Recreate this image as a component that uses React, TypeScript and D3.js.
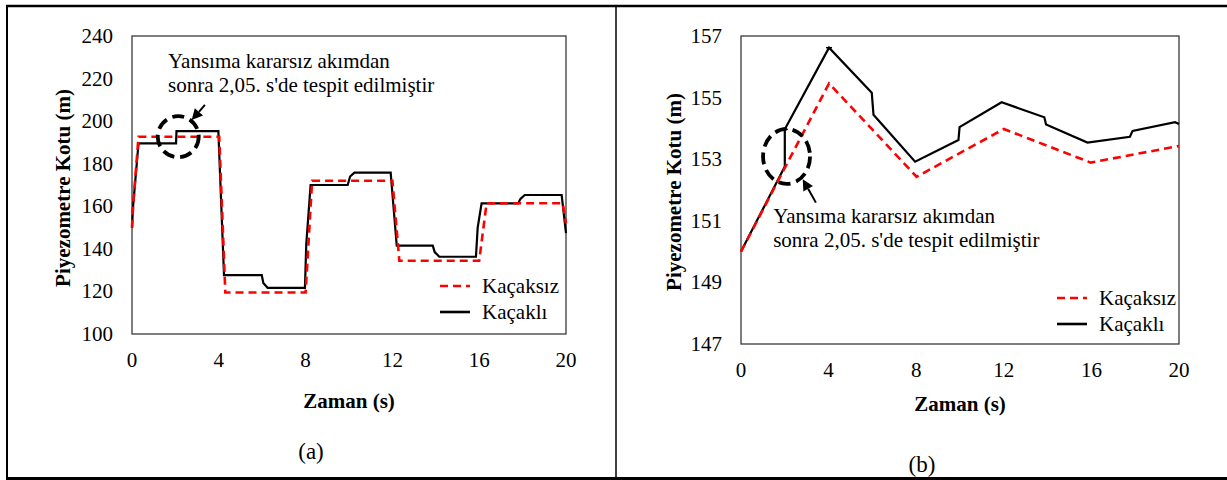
import React from "react";
import * as d3 from "d3";

// ---------- DATA ----------
// Panel (a)
const timeA_kacaksiz = [0, 0.05, 0.3, 4.02, 4.3, 8.0, 8.3, 12.0, 12.32, 16.0, 16.34, 19.85, 20];
const headA_kacaksiz = [150, 160, 192.7, 192.7, 119.5, 119.5, 172, 172, 134.4, 134.4, 161.4, 161.4, 152];
const timeA_kacakli = [0, 0.05, 0.3, 2.03, 2.05, 3.98, 4.24, 5.98, 6.05, 6.25, 7.97, 8.03, 8.23, 9.94, 10.05, 10.25, 11.92, 12.2, 13.86, 13.95, 14.16, 15.85, 15.93, 16.11, 17.8, 17.9, 18.1, 19.8, 20];
const headA_kacakli = [150, 160, 189.6, 189.6, 195.3, 195.3, 127.7, 127.7, 124, 121.7, 121.7, 142, 170, 170, 174, 175.8, 175.8, 141.5, 141.5, 138.5, 136.3, 136.3, 150, 161.4, 161.4, 163.5, 165.3, 165.3, 147.4];
const yTicksA = [100, 120, 140, 160, 180, 200, 220, 240];

// Panel (b)
const timeB_kacaksiz = [0, 4.02, 8.02, 12.0, 15.97, 20];
const headB_kacaksiz = [150, 155.46, 152.43, 153.98, 152.89, 153.43];
const timeB_kacakli = [0, 2.0, 2.0, 4.02, 5.97, 6.05, 7.95, 9.93, 9.98, 11.9, 13.85, 13.93, 15.82, 17.76, 17.88, 19.82, 20];
const headB_kacakli = [150, 152.76, 153.97, 156.62, 155.16, 154.44, 152.92, 153.62, 154.04, 154.85, 154.36, 154.13, 153.54, 153.73, 153.92, 154.2, 154.14];
const yTicksB = [147, 149, 151, 153, 155, 157];

const xTicks = [0, 4, 8, 12, 16, 20];
const seriesNames = ["Kaçaksız", "Kaçaklı"];
const annotationLines = ["Yansıma kararsız akımdan", "sonra 2,05. s'de tespit edilmiştir"];
const yTitle = "Piyezometre Kotu (m)";
const xTitle = "Zaman (s)";

const FONT = "'Liberation Serif', 'Times New Roman', serif";
const FS = 21;

type Panel = {
  left: number; right: number; top: number; bottom: number;
  yDomain: [number, number]; yTicks: number[];
  red: [number[], number[]]; black: [number[], number[]];
  yTitleX: number; yTitleY: number; xTitleY: number;
  label: string; labelX: number; labelY: number;
  circle: { t: number; v: number; rx: number; ry: number };
  arrowTip: [number, number]; arrowTail: [number, number];
  textAt: [number, number];
  legendX: number; legendY: number; legendLen: number;
  caps: number[];
};

const panels: Panel[] = [
  {
    left: 132, right: 566, top: 36, bottom: 334,
    yDomain: [100, 240], yTicks: yTicksA,
    red: [timeA_kacaksiz, headA_kacaksiz], black: [timeA_kacakli, headA_kacakli],
    yTitleX: 70, yTitleY: 188, xTitleY: 408,
    label: "(a)", labelX: 311, labelY: 459,
    circle: { t: 2.13, v: 192.7, rx: 20.5, ry: 20.5 },
    arrowTip: [2.75, 200.5], arrowTail: [3.36, 207.6],
    textAt: [1.66, 224.8],
    legendX: 440, legendY: 286, legendLen: 30,
    caps: [],
  },
  {
    left: 741, right: 1179, top: 36, bottom: 344,
    yDomain: [147, 157], yTicks: yTicksB,
    red: [timeB_kacaksiz, headB_kacaksiz], black: [timeB_kacakli, headB_kacakli],
    yTitleX: 681, yTitleY: 192, xTitleY: 411,
    label: "(b)", labelX: 922, labelY: 472,
    circle: { t: 2.08, v: 153.09, rx: 23.5, ry: 27.5 },
    arrowTip: [2.82, 152.35], arrowTail: [3.42, 151.59],
    textAt: [1.47, 150.94],
    legendX: 1057, legendY: 298, legendLen: 30,
    caps: [2, 3],
  },
];

function PanelView({ p }: { p: Panel }) {
  const x = d3.scaleLinear().domain([0, 20]).range([p.left, p.right]);
  const y = d3.scaleLinear().domain(p.yDomain).range([p.bottom, p.top]);
  const line = d3.line<[number, number]>().x((d) => x(d[0])).y((d) => y(d[1]));
  const redPts = p.red[0].map((t, i) => [t, p.red[1][i]] as [number, number]);
  const blackPts = p.black[0].map((t, i) => [t, p.black[1][i]] as [number, number]);

  const tipX = x(p.arrowTip[0]), tipY = y(p.arrowTip[1]);
  const tailX = x(p.arrowTail[0]), tailY = y(p.arrowTail[1]);
  const ang = Math.atan2(tipY - tailY, tipX - tailX);
  const hl = 11, hw = 5.5;
  const bx = tipX - hl * Math.cos(ang), by = tipY - hl * Math.sin(ang);
  const head = `M${tipX},${tipY}L${bx + hw * Math.sin(ang)},${by - hw * Math.cos(ang)}L${bx - hw * Math.sin(ang)},${by + hw * Math.cos(ang)}Z`;

  const tx = x(p.textAt[0]), ty = y(p.textAt[1]);

  return (
    <g fontFamily={FONT} fontSize={FS} fill="#000">
      <rect x={p.left} y={p.top} width={p.right - p.left} height={p.bottom - p.top} fill="none" stroke="#3a3a3a" strokeWidth={1.3} />
      {p.yTicks.map((v) => (
        <text key={v} x={p.left - 19} y={y(v) + 7} textAnchor="end">{v}</text>
      ))}
      {xTicks.map((t) => (
        <text key={t} x={x(t)} y={p.bottom + 33} textAnchor="middle">{t}</text>
      ))}
      <text x={(p.left + p.right) / 2} y={p.xTitleY} textAnchor="middle" fontWeight="bold">{xTitle}</text>
      <text transform={`translate(${p.yTitleX},${p.yTitleY}) rotate(-90)`} textAnchor="middle" fontWeight="bold">{yTitle}</text>
      <text x={p.labelX} y={p.labelY} textAnchor="middle" fontSize={23}>{p.label}</text>

      <path d={line(blackPts) || ""} fill="none" stroke="#000" strokeWidth={2.2} strokeLinejoin="miter" />
      {p.caps.map((i) => (
        <line key={i} x1={x(p.black[0][i]) - 3} x2={x(p.black[0][i]) + 3} y1={y(p.black[1][i])} y2={y(p.black[1][i])} stroke="#000" strokeWidth={1.5} />
      ))}
      <path d={line(redPts) || ""} fill="none" stroke="#ff0000" strokeWidth={2.6} strokeDasharray="8,5" />

      <ellipse cx={x(p.circle.t)} cy={y(p.circle.v)} rx={p.circle.rx} ry={p.circle.ry} fill="none" stroke="#000" strokeWidth={3.8} strokeDasharray="12,6" />
      <line x1={tailX} y1={tailY} x2={bx} y2={by} stroke="#000" strokeWidth={2} />
      <path d={head} fill="#000" />
      <text x={tx} y={ty}>{annotationLines[0]}</text>
      <text x={tx} y={ty + 24}>{annotationLines[1]}</text>

      <line x1={p.legendX} x2={p.legendX + p.legendLen} y1={p.legendY} y2={p.legendY} stroke="#ff0000" strokeWidth={2.6} strokeDasharray="8,5" />
      <line x1={p.legendX} x2={p.legendX + p.legendLen} y1={p.legendY + 26} y2={p.legendY + 26} stroke="#000" strokeWidth={2.6} />
      <text x={p.legendX + p.legendLen + 12} y={p.legendY + 7}>{seriesNames[0]}</text>
      <text x={p.legendX + p.legendLen + 12} y={p.legendY + 33}>{seriesNames[1]}</text>
    </g>
  );
}

export default function App() {
  return (
    <svg width={1227} height={480} style={{ position: "absolute", left: 0, top: 0, background: "#fff" }}>
      <rect x={0} y={0} width={1227} height={480} fill="#fff" />
      <line x1={6} x2={1227} y1={6} y2={6} stroke="#000" strokeWidth={2.5} />
      <line x1={7} x2={7} y1={5} y2={480} stroke="#000" strokeWidth={2} />
      <line x1={6} x2={1227} y1={478.5} y2={478.5} stroke="#000" strokeWidth={3} />
      <line x1={616} x2={616} y1={6} y2={478} stroke="#000" strokeWidth={1.5} />
      {panels.map((p, i) => (
        <PanelView key={i} p={p} />
      ))}
    </svg>
  );
}
